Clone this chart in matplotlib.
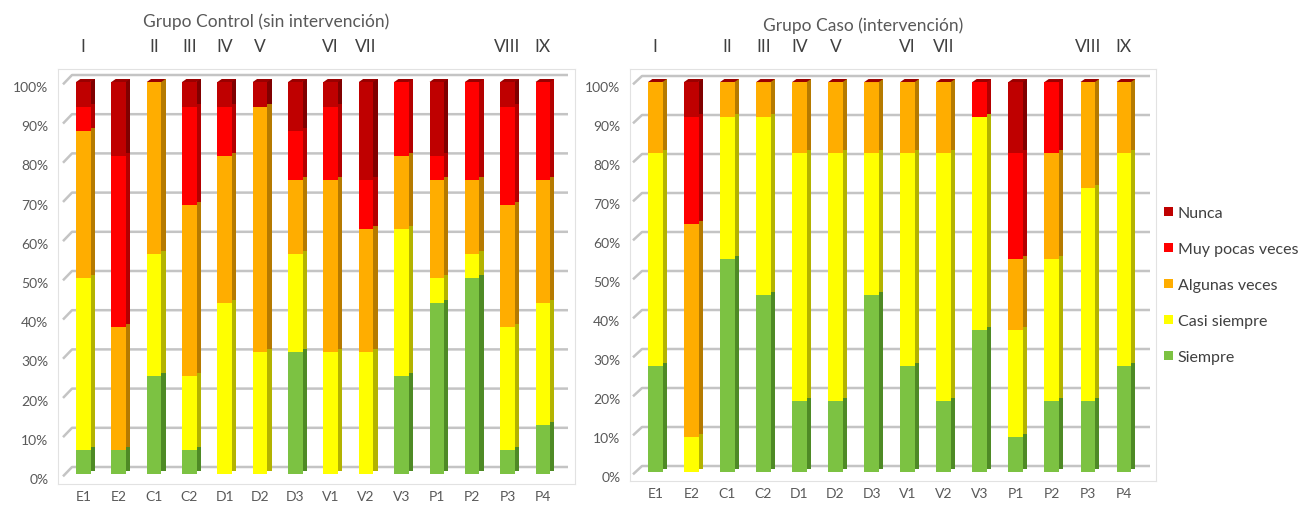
import matplotlib
matplotlib.use("Agg")
import matplotlib.pyplot as plt
import matplotlib.transforms as mtransforms
from matplotlib.patches import Patch
import numpy as np

plt.rcParams['font.family'] = ['Lato', 'DejaVu Sans']

# ---------------- data ----------------
categories = ["E1", "E2", "C1", "C2", "D1", "D2", "D3", "V1", "V2", "V3", "P1", "P2", "P3", "P4"]
roman_labels = ["I", "", "II", "III", "IV", "V", "", "VI", "VII", "", "", "", "VIII", "IX"]
series_names = ["Siempre", "Casi siempre", "Algunas veces", "Muy pocas veces", "Nunca"]

# Grupo Control (sin intervención), % per response
siempre_ctrl = [6.25, 6.25, 25, 6.25, 0, 0, 31.25, 0, 0, 25, 43.75, 50, 6.25, 12.5]
casi_ctrl = [43.75, 0, 31.25, 18.75, 43.75, 31.25, 25, 31.25, 31.25, 37.5, 6.25, 6.25, 31.25, 31.25]
algunas_ctrl = [37.5, 31.25, 43.75, 43.75, 37.5, 62.5, 18.75, 43.75, 31.25, 18.75, 25, 18.75, 31.25, 31.25]
muypocas_ctrl = [6.25, 43.75, 0, 25, 12.5, 0, 12.5, 18.75, 12.5, 18.75, 6.25, 25, 25, 25]
nunca_ctrl = [6.25, 18.75, 0, 6.25, 6.25, 6.25, 12.5, 6.25, 25, 0, 18.75, 0, 6.25, 0]

# Grupo Caso (intervención), % per response
siempre_caso = [27.27, 0, 54.55, 45.45, 18.18, 18.18, 45.45, 27.27, 18.18, 36.36, 9.09, 18.18, 18.18, 27.27]
casi_caso = [54.55, 9.09, 36.36, 45.45, 63.64, 63.64, 36.36, 54.55, 63.64, 54.55, 27.27, 36.36, 54.55, 54.55]
algunas_caso = [18.18, 54.55, 9.09, 9.09, 18.18, 18.18, 18.18, 18.18, 18.18, 0, 18.18, 27.27, 27.27, 18.18]
muypocas_caso = [0, 27.27, 0, 0, 0, 0, 0, 0, 0, 9.09, 27.27, 18.18, 0, 0]
nunca_caso = [0, 9.09, 0, 0, 0, 0, 0, 0, 0, 0, 18.18, 0, 0, 0]

yticks = [0, 10, 20, 30, 40, 50, 60, 70, 80, 90, 100]
ytick_labels = ["0%", "10%", "20%", "30%", "40%", "50%", "60%", "70%", "80%", "90%", "100%"]

# ---------------- style ----------------
front_colors = ["#7cc242", "#ffff00", "#ffad00", "#ff0000", "#bf0000"]
side_colors = ["#4e8a25", "#b3b300", "#b57a00", "#b30000", "#800000"]
top_cap_color = "#9a0000"
grid_color = "#c4c4c4"
text_gray = "#595959"

W, H = 1309, 506
fig = plt.figure(figsize=(W / 100, H / 100), dpi=100)
fig.patch.set_facecolor("white")


def make_axes(left_px, right_px, top_px, bottom_px, zero_px, hundred_px, first_px, last_px):
    ax = fig.add_axes([left_px / W, 1 - bottom_px / H, (right_px - left_px) / W, (bottom_px - top_px) / H])
    ppu_y = (zero_px - hundred_px) / 100.0
    ylo = -(bottom_px - zero_px) / ppu_y
    yhi = 100 + (hundred_px - top_px) / ppu_y
    ppu_x = (last_px - first_px) / 13.0
    xlo = -(first_px - left_px) / ppu_x
    xhi = 13 + (right_px - last_px) / ppu_x
    ax.set_xlim(xlo, xhi)
    ax.set_ylim(ylo, yhi)
    return ax, ppu_x, ppu_y


def draw_chart(ax, ppu_x, ppu_y, data, title, title_x_px, title_y_px, grid_x0, grid_x1, grid_xend, grid_dy_px):
    x = np.arange(len(categories))
    w = 14.5 / ppu_x
    sw = 4.3 / ppu_x
    dy = 3.0 / ppu_y
    bottom = np.zeros(len(categories))
    # gridlines (3D back wall style)
    gdy = grid_dy_px / ppu_y
    trans = mtransforms.blended_transform_factory(ax.transAxes, ax.transData)
    for v in yticks:
        ax.plot([grid_x0, grid_x1, grid_xend], [v - 0.6, v + gdy, v + gdy], color=grid_color,
                lw=1.8, transform=trans, zorder=0.5, solid_capstyle="butt")
    for vals, fc, sc in zip(data, front_colors, side_colors):
        vals = np.asarray(vals, dtype=float)
        ax.bar(x, vals, bottom=bottom, width=w, color=fc, linewidth=0, zorder=2)
        ax.bar(x + w / 2 + sw / 2, vals, bottom=bottom + dy, width=sw, color=sc, linewidth=0, zorder=2)
        bottom = bottom + vals
    # top cap faces
    for xi, top in zip(x, bottom):
        ax.fill([xi - w / 2, xi + w / 2, xi + w / 2 + sw, xi - w / 2 + sw],
                [top, top, top + dy, top + dy], color=top_cap_color, linewidth=0, zorder=3)

    ax.set_xticks(x)
    ax.set_xticklabels(categories, fontsize=10, color=text_gray)
    ax.set_yticks(yticks)
    ax.set_yticklabels(ytick_labels, fontsize=10, color=text_gray)
    ax.tick_params(axis="both", length=0)
    ax.tick_params(axis="x", pad=4)
    ax.tick_params(axis="y", pad=7)
    off = mtransforms.ScaledTranslation(0, -4 / 100, fig.dpi_scale_trans)
    for lab in ax.get_yticklabels():
        lab.set_transform(lab.get_transform() + off)
    for s in ax.spines.values():
        s.set_color("#e2e2e2")
        s.set_linewidth(0.8)
    # roman numerals above
    rtrans = mtransforms.blended_transform_factory(ax.transData, fig.transFigure)
    for xi, r in zip(x, roman_labels):
        if r:
            ax.text(xi, 1 - 47 / H, r, transform=rtrans, ha="center", va="center",
                    fontsize=12.5, color="#404040")
    fig.text(title_x_px / W, 1 - title_y_px / H, title, ha="center", va="center",
             fontsize=12.5, color=text_gray)


axL, pxL, pyL = make_axes(58, 575, 70, 485, 475, 83, 83.3, 542.8)
draw_chart(axL, pxL, pyL,
           [siempre_ctrl, casi_ctrl, algunas_ctrl, muypocas_ctrl, nunca_ctrl],
           "Grupo Control (sin intervención)", 266, 22,
           5 / 517, 14 / 517, 510 / 517, 7)

axR, pxR, pyR = make_axes(630, 1156, 70, 482, 473, 83, 655.3, 1123.8)
draw_chart(axR, pxR, pyR,
           [siempre_caso, casi_caso, algunas_caso, muypocas_caso, nunca_caso],
           "Grupo Caso (intervención)", 863, 26,
           3 / 526, 12 / 526, 520 / 526, 6)

handles = [Patch(facecolor=c, edgecolor="none") for c in front_colors[::-1]]
fig.legend(handles, series_names[::-1], loc="upper left",
           bbox_to_anchor=(1164 / W, 1 - 207 / H), frameon=False,
           fontsize=11.5, labelcolor="#404040", handlelength=0.55, handleheight=0.55,
           handletextpad=0.3, labelspacing=1.38, borderpad=0, borderaxespad=0)

fig.savefig("out.png", dpi=100, facecolor="white")
